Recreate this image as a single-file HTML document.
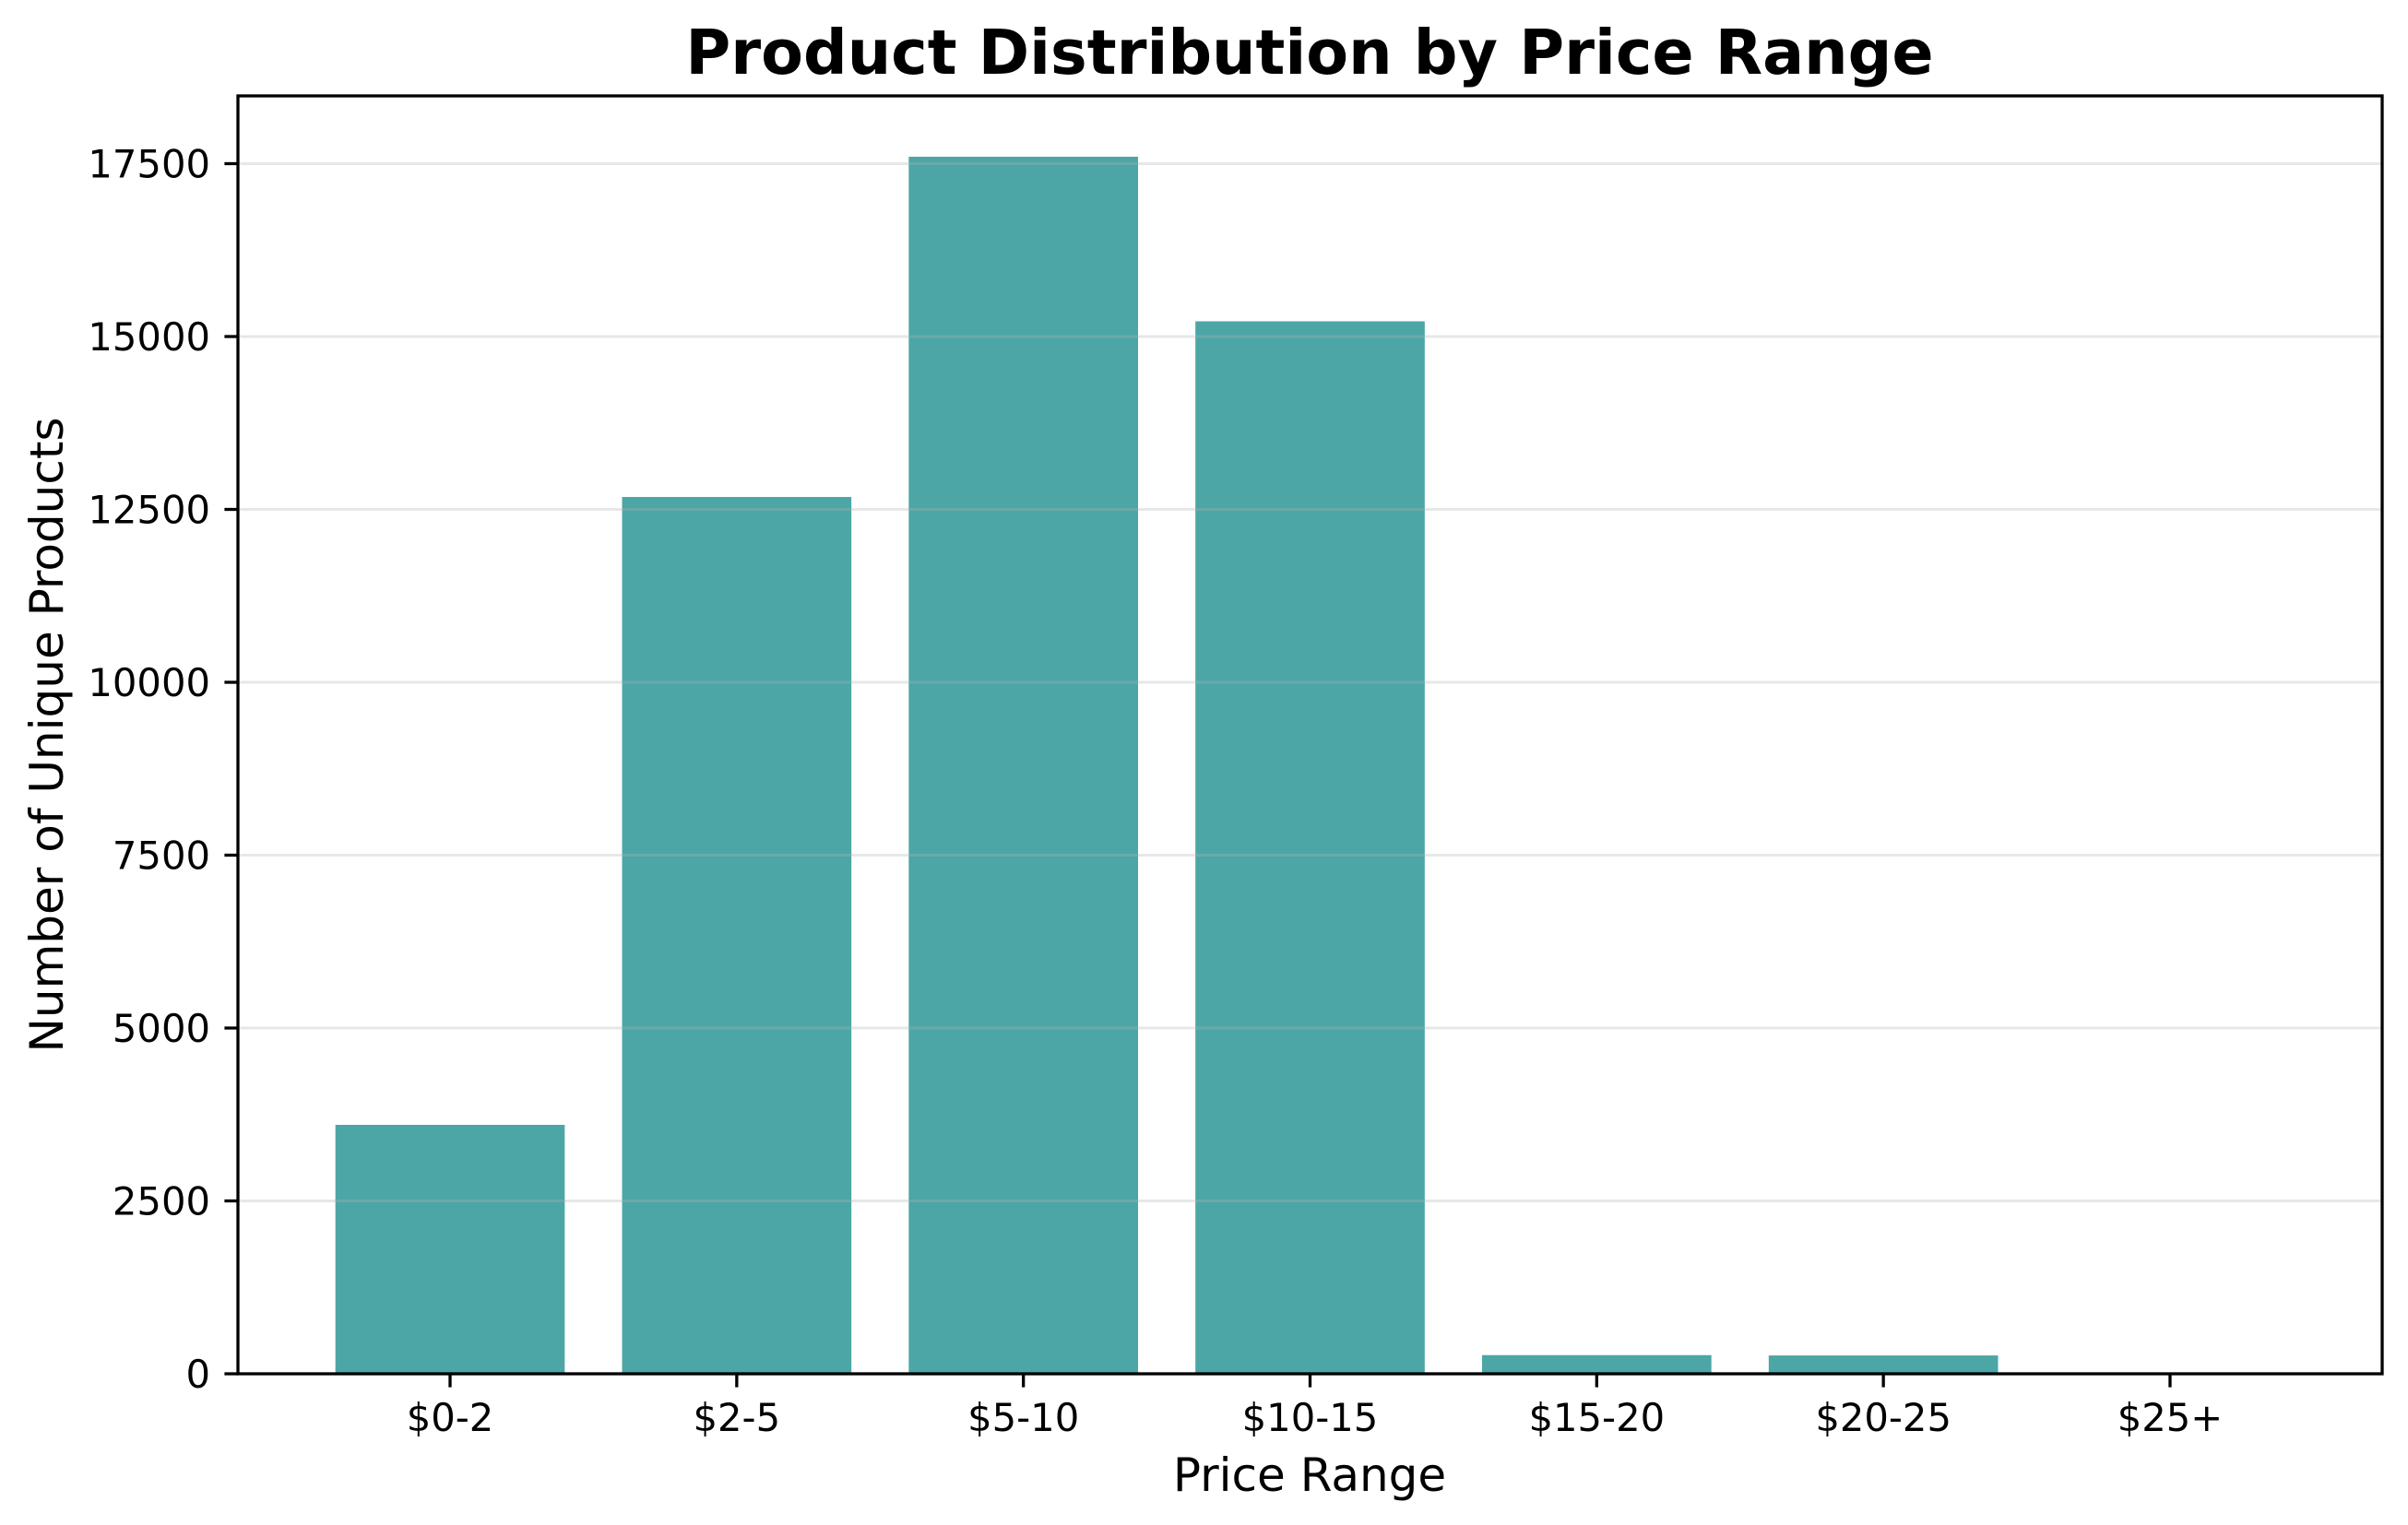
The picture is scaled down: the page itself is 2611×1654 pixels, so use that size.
<!DOCTYPE html>
<html><head><meta charset="utf-8"><style>
html,body{margin:0;padding:0;background:#fff;}
svg{display:block;font-family:"DejaVu Sans","Liberation Sans",sans-serif;}
</style></head><body>
<svg id="chart" width="2611" height="1654" viewBox="0 0 2611 1654" xmlns="http://www.w3.org/2000/svg">
<rect width="2611" height="1654" fill="#fff"/>
<text x="1420" y="80" text-anchor="middle" font-size="66.7" font-weight="bold">Product Distribution by Price Range</text>
<g id="bars"></g>
<g id="grid"></g>
<g id="yticks"></g>
<g id="xticks"></g>
<rect x="258" y="104" width="2325" height="1386" fill="none" stroke="#000" stroke-width="3.3"/>
<text x="1420" y="1617" text-anchor="middle" font-size="50">Price Range</text>
<text transform="translate(68,797) rotate(-90)" text-anchor="middle" font-size="50">Number of Unique Products</text>
</svg>
<script>
const categories = ["$0-2","$2-5","$5-10","$10-15","$15-20","$20-25","$25+"];
const counts = [3600, 12680, 17600, 15220, 270, 265, 5];
const yTicks = [0, 2500, 5000, 7500, 10000, 12500, 15000, 17500];

const NS = "http://www.w3.org/2000/svg";
const L = 258, R = 2583, T = 104, B = 1490;
const yMax = 18480, xMin = -0.74, xMax = categories.length - 1 + 0.74;
function xs(i){ return L + (i - xMin) / (xMax - xMin) * (R - L); }
function ys(v){ return B - v / yMax * (B - T); }
const unit = xs(1) - xs(0);

const barsG = document.getElementById('bars');
categories.forEach((c, i) => {
  const r = document.createElementNS(NS, 'rect');
  const w = 0.8 * unit;
  r.setAttribute('x', xs(i) - w / 2);
  r.setAttribute('y', ys(counts[i]));
  r.setAttribute('width', w);
  r.setAttribute('height', B - ys(counts[i]));
  r.setAttribute('fill', '#4ca6a6');
  
  
  barsG.appendChild(r);
});

const gridG = document.getElementById('grid');
const yG = document.getElementById('yticks');
yTicks.forEach(v => {
  const y = ys(v);
  const g = document.createElementNS(NS, 'line');
  g.setAttribute('x1', L); g.setAttribute('x2', R);
  g.setAttribute('y1', y); g.setAttribute('y2', y);
  g.setAttribute('stroke', 'rgba(176,176,176,0.3)');
  g.setAttribute('stroke-width', '3');
  
  
  gridG.appendChild(g);
  const t = document.createElementNS(NS, 'line');
  t.setAttribute('x1', L - 14.6); t.setAttribute('x2', L);
  t.setAttribute('y1', y); t.setAttribute('y2', y);
  t.setAttribute('stroke', '#000'); t.setAttribute('stroke-width', '3.3');
  
  
  yG.appendChild(t);
  const tx = document.createElementNS(NS, 'text');
  tx.setAttribute('x', L - 30); tx.setAttribute('y', y + 15);
  tx.setAttribute('text-anchor', 'end'); tx.setAttribute('font-size', '41.7');
  tx.textContent = v;
  
  
  yG.appendChild(tx);
});

const xG = document.getElementById('xticks');
categories.forEach((c, i) => {
  const x = xs(i);
  const t = document.createElementNS(NS, 'line');
  t.setAttribute('x1', x); t.setAttribute('x2', x);
  t.setAttribute('y1', B); t.setAttribute('y2', B + 14.6);
  t.setAttribute('stroke', '#000'); t.setAttribute('stroke-width', '3.3');
  
  
  xG.appendChild(t);
  const tx = document.createElementNS(NS, 'text');
  tx.setAttribute('x', x); tx.setAttribute('y', B + 62);
  tx.setAttribute('text-anchor', 'middle'); tx.setAttribute('font-size', '41.7');
  tx.textContent = c;
  
  
  xG.appendChild(tx);
});
</script>
</body></html>
